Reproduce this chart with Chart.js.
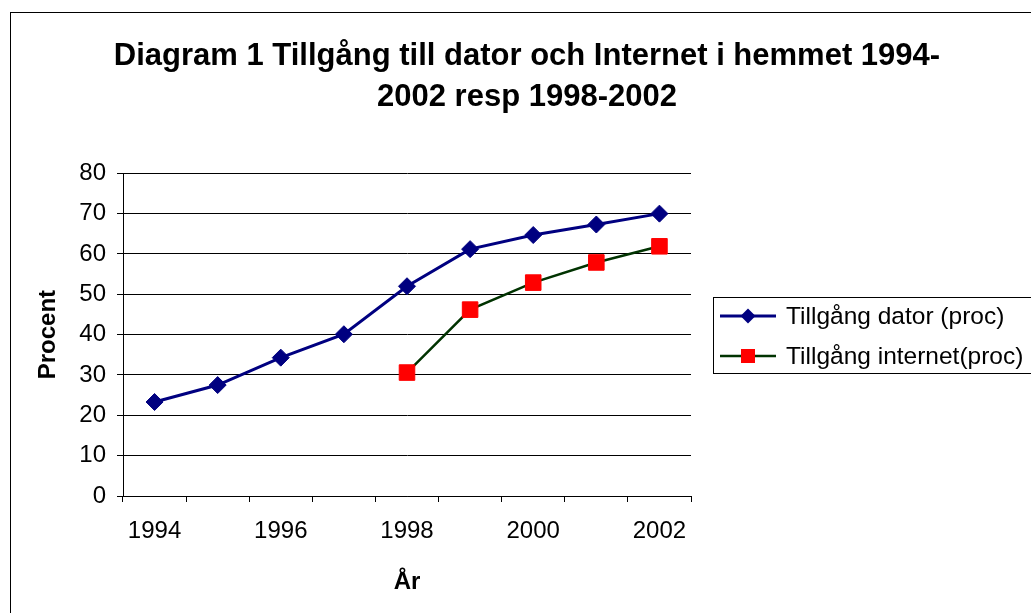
<!DOCTYPE html>
<html>
<head>
<meta charset="utf-8">
<script src="https://cdn.jsdelivr.net/npm/chart.js@4.4.0/dist/chart.umd.min.js"></script>
<style>
html, body { margin: 0; padding: 0; background: #fff; overflow: hidden; }
#frame { position: absolute; left: 10px; top: 12px; width: 1100px; height: 700px; border-left: 1px solid #000; border-top: 1px solid #000; }
#wrap { position: absolute; left: 0; top: 0; width: 1031px; height: 613px; }
</style>
</head>
<body>
<div id="frame"></div>
<div id="wrap"><canvas id="diagram"></canvas></div>
<script>
const years = ["1994", "1995", "1996", "1997", "1998", "1999", "2000", "2001", "2002"];
const shownYears = ["1994", "1996", "1998", "2000", "2002"];
const datorValues = [23.3, 27.5, 34.3, 40.1, 52.0, 61.2, 64.7, 67.3, 70.0];
const internetValues = [null, null, null, null, 30.6, 46.2, 52.9, 57.9, 61.9];
const seriesNames = ["Tillgång dator (proc)", "Tillgång internet(proc)"];
const titleLines = ["Diagram 1 Tillgång till dator och Internet i hemmet 1994-", "2002 resp 1998-2002"];

const fontFam = '"Liberation Sans", Arial, sans-serif';

// legend drawn by hand: Excel style box with line + marker
const excelLegend = {
    id: "excelLegend",
    afterDraw(chart) {
        const ctx = chart.ctx;
        ctx.save();
        ctx.strokeStyle = "#000";
        ctx.lineWidth = 1;
        ctx.strokeRect(713.5, 297.5, 400, 76);
        chart.data.datasets.forEach(function (ds, i) {
            const y = 316 + i * 40;
            ctx.strokeStyle = ds.borderColor;
            ctx.lineWidth = ds.borderWidth;
            ctx.beginPath();
            ctx.moveTo(720, y);
            ctx.lineTo(776, y);
            ctx.stroke();
            ctx.fillStyle = ds.pointBackgroundColor;
            ctx.beginPath();
            if (ds.pointStyle === "rectRot") {
                const r = 7.5;
                ctx.moveTo(748, y - r);
                ctx.lineTo(748 + r, y);
                ctx.lineTo(748, y + r);
                ctx.lineTo(748 - r, y);
                ctx.closePath();
            } else {
                ctx.rect(741, y - 7, 14, 14);
            }
            ctx.fill();
            ctx.fillStyle = "#000";
            ctx.font = "24.5px " + fontFam;
            ctx.textBaseline = "middle";
            ctx.textAlign = "left";
            ctx.fillText(ds.label, 786, y + 1);
        });
        ctx.restore();
    }
};

new Chart(document.getElementById("diagram"), {
    type: "line",
    data: {
        labels: years,
        datasets: [
            {
                label: seriesNames[0],
                data: datorValues,
                borderColor: "#000080",
                borderWidth: 3,
                pointStyle: "rectRot",
                pointRadius: 8.5,
                pointBackgroundColor: "#000080",
                pointBorderColor: "#000080",
                pointBorderWidth: 1,
                tension: 0
            },
            {
                label: seriesNames[1],
                data: internetValues,
                borderColor: "#003300",
                borderWidth: 2.5,
                pointStyle: "rect",
                pointRadius: 11,
                pointBackgroundColor: "#ff0000",
                pointBorderColor: "#ff0000",
                pointBorderWidth: 1,
                tension: 0
            }
        ]
    },
    options: {
        responsive: true,
        maintainAspectRatio: false,
        animation: false,
        events: [],
        layout: { padding: { left: 23, right: 0, top: 0, bottom: 0 } },
        plugins: {
            legend: { display: false },
            tooltip: { enabled: false },
            title: {
                display: true,
                text: titleLines,
                color: "#000",
                font: { family: fontFam, size: 31, weight: "bold", lineHeight: "41px" },
                padding: { top: 35.5, bottom: 55.8 }
            }
        },
        scales: {
            x: {
                offset: true,
                afterFit: function (scale) { scale.height = 117; },
                grid: { offset: true, drawOnChartArea: false, drawTicks: true, tickLength: 6, color: "#000" },
                border: { color: "#000", width: 1 },
                ticks: {
                    autoSkip: false,
                    maxRotation: 0,
                    color: "#000",
                    padding: 15,
                    font: { family: fontFam, size: 24 },
                    callback: function (val, idx) {
                        const y = years[idx];
                        return shownYears.includes(y) ? y : "";
                    }
                },
                title: {
                    display: true,
                    text: "År",
                    color: "#000",
                    font: { family: fontFam, size: 24, weight: "bold" },
                    padding: { top: 0, bottom: 16.6 }
                }
            },
            y: {
                min: 0,
                max: 80,
                afterFit: function (scale) { scale.width = 100; },
                grid: { color: "#000", tickLength: 6 },
                border: { color: "#000", width: 1 },
                ticks: {
                    stepSize: 10,
                    color: "#000",
                    padding: 11,
                    font: { family: fontFam, size: 24 }
                },
                title: {
                    display: true,
                    text: "Procent",
                    color: "#000",
                    font: { family: fontFam, size: 24, weight: "bold" },
                    padding: { top: 11, bottom: 0 }
                }
            },
            spacer: {
                type: "linear",
                axis: "y",
                position: "right",
                afterFit: function (scale) { scale.width = 340; },
                grid: { display: false },
                border: { display: false },
                ticks: { display: false }
            }
        }
    },
    plugins: [excelLegend]
});
</script>
</body>
</html>
